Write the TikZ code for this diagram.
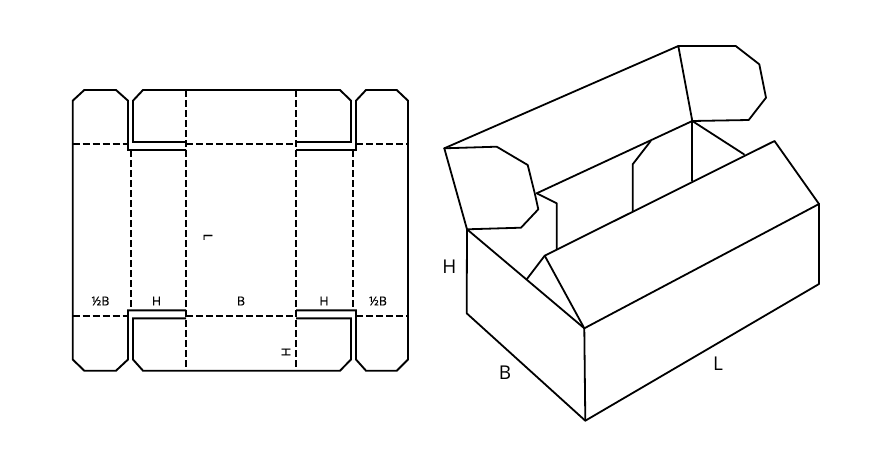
\documentclass[tikz,border=0pt]{standalone}
\usepackage{fontspec}
\setmainfont{Open Sans}
\newfontfamily\labelfont[FakeBold=0.4]{Open Sans}
\tikzset{
  cut/.style={draw=black,line width=1.9pt,line join=miter},
  fold/.style={draw=black,line width=1.8pt,dash pattern=on 7pt off 3pt},
  edge3d/.style={draw=black,line width=1.8pt,line join=round,line cap=round},
  small/.style={font=\labelfont\fontsize{12.5}{14}\selectfont,inner sep=0pt},
  big/.style={font=\fontsize{19}{22}\selectfont,inner sep=0pt}
}
\begin{document}
\begin{tikzpicture}[x=1pt,y=-1pt]
\useasboundingbox (0,0) rectangle (872,463);
% flat layout: coordinates
\coordinate (tl) at (186,90);
\coordinate (bl) at (186,370.7);
\coordinate (tr) at (296,90);
\coordinate (br) at (296,370.7);
% fold lines
\draw[fold] (72.7,144) -- (128,144);
\draw[fold] (186,144) -- (296,144);
\draw[fold] (356,144) -- (408,144);
\draw[fold] (72.7,315.7) -- (128,315.7);
\draw[fold] (186,315.7) -- (296,315.7);
\draw[fold] (356,315.7) -- (408,315.7);
\draw[fold] (130.7,150) -- (130.7,310.3);
\draw[fold] (352.7,150) -- (352.7,310.3);
\draw[fold] (tl) -- (bl);
\draw[fold] (tr) -- (br);
% flat layout: cut outline
\draw[cut] (186,150) -- (128,150) -- (128,100.7) -- (116,90) -- (84.3,90) -- (72.7,100.7) -- (72.7,359.5) -- (84.3,370.7) -- (116,370.7) -- (128,359.5) -- (128,310.3) -- (186,310.3);
\draw[cut] (186,142) -- (133,142) -- (133,100.7) -- (143,90) -- (tl) -- (tr) -- (340,90) -- (351,100.7) -- (351,142) -- (296,142);
\draw[cut] (186,318.3) -- (133,318.3) -- (133,359.5) -- (143,370.7) -- (bl) -- (br) -- (340,370.7) -- (351,359.5) -- (351,318.3) -- (296,318.3);
\draw[cut] (296,150) -- (356,150) -- (356,100.7) -- (366,90) -- (396.7,90) -- (408,100.7) -- (408,359.5) -- (396.7,370.7) -- (366,370.7) -- (356,359.5) -- (356,310.3) -- (296,310.3);
% flat labels
\node[small] (la) at (100.5,301) {½B};
\node[small] (lb) at (156.5,301) {H};
\node[small] (lc) at (241,301) {B};
\node[small] (ld) at (324,301) {H};
\node[small] (le) at (378,301) {½B};
\node[small,rotate=-90] (lf) at (208,237) {L};
\node[small,rotate=90] (lg) at (286,352) {H};
% box
\coordinate (A) at (444.3,148.3);
\coordinate (C) at (467,229.3);
\coordinate (D) at (466.7,313.3);
\coordinate (E) at (585.3,420.7);
\coordinate (F) at (584.3,328.3);
\coordinate (G) at (819,204);
\coordinate (K) at (819,284);
\coordinate (M) at (774.5,141);
\coordinate (N) at (544.7,255.7);
\coordinate (P) at (526.7,279.3);
\coordinate (Q) at (692.3,121);
\coordinate (R) at (678.3,46);
\coordinate (S) at (536.7,193.3);
\draw[edge3d] (A) -- (496.7,146.7) -- (527.7,165) -- (535,194.3) -- (538.3,209.3) -- (521,227.7) -- (C) -- cycle;
\draw[edge3d] (A) -- (R) -- (Q) -- (S);
\draw[edge3d] (R) -- (735.7,46) -- (759.3,64.3) -- (766,97.7) -- (748.7,120) -- (Q);
\draw[edge3d] (C) -- (D) -- (E) -- (K) -- (G) -- (M) -- (N) -- (P);
\draw[edge3d] (C) -- (F) -- (G);
\draw[edge3d] (F) -- (E);
\draw[edge3d] (N) -- (F);
\draw[edge3d] (Q) -- (692.3,180.7);
\draw[edge3d] (Q) -- (744,154.3);
\draw[edge3d] (650.7,141) -- (632.7,164.3) -- (632.7,211);
\draw[edge3d] (S) -- (556.7,203.3) -- (556.7,249);
\node[big] (h3) at (449.5,267) {H};
\node[big] (b3) at (505,373) {B};
\node[big] (l3) at (718,364) {L};
\end{tikzpicture}
\end{document}
